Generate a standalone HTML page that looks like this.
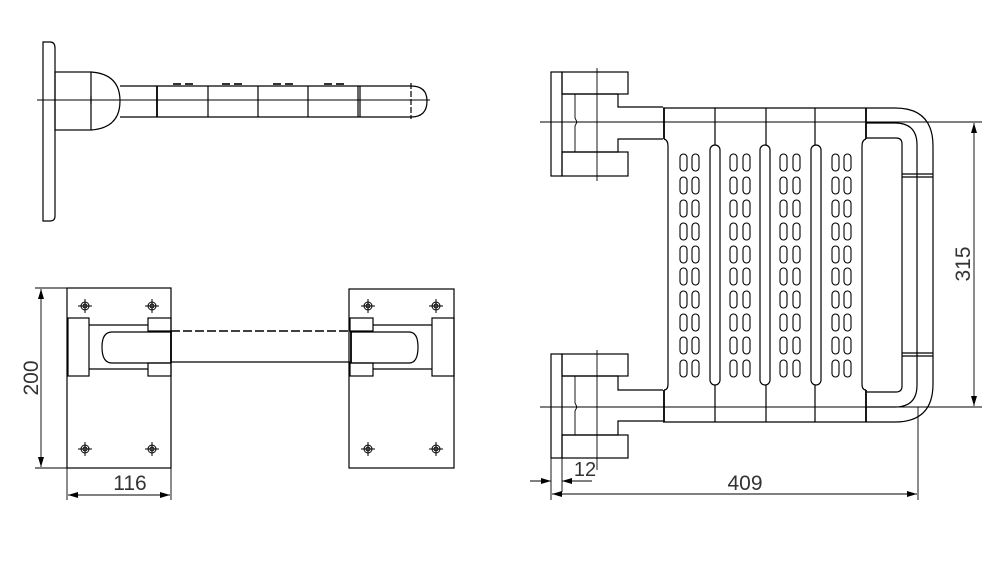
<!DOCTYPE html>
<html><head><meta charset="utf-8"><style>
html,body{margin:0;padding:0;background:#fff;}
svg{display:block;}
text{font-family:"Liberation Sans",sans-serif;fill:#333;}
</style></head><body>
<svg width="1000" height="561" viewBox="0 0 1000 561" xmlns="http://www.w3.org/2000/svg">
<defs>
<marker id="ar" viewBox="0 0 10 6" refX="10" refY="3" markerWidth="10" markerHeight="6" orient="auto-start-reverse" markerUnits="userSpaceOnUse"><path d="M0,0 L10,3 L0,6 z" fill="#000"/></marker>
</defs>
<g fill="none" stroke="#000" stroke-width="1.2">
<path d="M43,42 H50 Q55,42 55,48 V216 Q55,221 50,221 H43 Z"/>
<rect x="55" y="72" width="36" height="58"/>
<path d="M91,72 Q120,74 120,101 Q120,128 91,130"/>
<path d="M120,86 H411 Q427,86 427,101 Q427,117 411,117 H120"/>
<line x1="157" y1="86" x2="157" y2="117" stroke-width="1.8"/>
<line x1="208" y1="86" x2="208" y2="117"/>
<line x1="258" y1="86" x2="258" y2="117"/>
<line x1="308" y1="86" x2="308" y2="117"/>
<line x1="358" y1="86" x2="358" y2="117"/>
<line x1="360" y1="86" x2="360" y2="117"/>
<line x1="411" y1="83" x2="411" y2="119" stroke-dasharray="6,2"/>
<line x1="37" y1="100" x2="430" y2="100" stroke-width="0.9"/>
<line x1="91" y1="96" x2="91" y2="104"/>
<g stroke-width="1.6"><line x1="173" y1="84" x2="181" y2="84"/><line x1="185" y1="84" x2="193" y2="84"/><line x1="222" y1="84" x2="230" y2="84"/><line x1="234" y1="84" x2="242" y2="84"/><line x1="273" y1="84" x2="281" y2="84"/><line x1="285" y1="84" x2="293" y2="84"/><line x1="324" y1="84" x2="332" y2="84"/><line x1="336" y1="84" x2="344" y2="84"/></g>

<rect x="67" y="288" width="104" height="180"/>
<rect x="349" y="289" width="105" height="179"/>
<rect x="68" y="318" width="21" height="58"/>
<rect x="148" y="318" width="23" height="13"/>
<rect x="148" y="363" width="23" height="13"/>
<line x1="89" y1="325" x2="148" y2="325"/><line x1="89" y1="369" x2="148" y2="369"/>
<path d="M171,332 H112 Q102,332 102,347 Q102,363 112,363 H171"/>
<line x1="171" y1="331" x2="350" y2="331" stroke-dasharray="9,3" stroke-width="1.6"/>
<line x1="171" y1="362" x2="350" y2="362"/>
<line x1="171" y1="331" x2="171" y2="363" stroke-width="1.8"/>
<line x1="351" y1="331" x2="351" y2="363" stroke-width="1.8"/>
<path d="M350,332 H409 Q418,332 418,347 Q418,363 409,363 H350"/>
<rect x="350" y="318" width="23" height="13"/>
<rect x="350" y="363" width="23" height="13"/>
<rect x="432" y="318" width="22" height="58"/>
<line x1="373" y1="325" x2="432" y2="325"/><line x1="373" y1="369" x2="432" y2="369"/>
<g stroke-width="1">
<g transform="translate(85,306)"><circle r="4"/><circle r="2"/><line x1="-7" y1="0" x2="7" y2="0"/><line x1="0" y1="-7" x2="0" y2="7"/></g>
<g transform="translate(152,306)"><circle r="4"/><circle r="2"/><line x1="-7" y1="0" x2="7" y2="0"/><line x1="0" y1="-7" x2="0" y2="7"/></g>
<g transform="translate(85,449)"><circle r="4"/><circle r="2"/><line x1="-7" y1="0" x2="7" y2="0"/><line x1="0" y1="-7" x2="0" y2="7"/></g>
<g transform="translate(152,449)"><circle r="4"/><circle r="2"/><line x1="-7" y1="0" x2="7" y2="0"/><line x1="0" y1="-7" x2="0" y2="7"/></g>
<g transform="translate(368,306)"><circle r="4"/><circle r="2"/><line x1="-7" y1="0" x2="7" y2="0"/><line x1="0" y1="-7" x2="0" y2="7"/></g>
<g transform="translate(436,306)"><circle r="4"/><circle r="2"/><line x1="-7" y1="0" x2="7" y2="0"/><line x1="0" y1="-7" x2="0" y2="7"/></g>
<g transform="translate(368,449)"><circle r="4"/><circle r="2"/><line x1="-7" y1="0" x2="7" y2="0"/><line x1="0" y1="-7" x2="0" y2="7"/></g>
<g transform="translate(436,449)"><circle r="4"/><circle r="2"/><line x1="-7" y1="0" x2="7" y2="0"/><line x1="0" y1="-7" x2="0" y2="7"/></g>
</g>
<g stroke-width="0.9">
<line x1="35" y1="288" x2="67" y2="288"/><line x1="35" y1="468" x2="171" y2="468"/>
<line x1="41" y1="289" x2="41" y2="467" marker-start="url(#ar)" marker-end="url(#ar)"/>
<line x1="67" y1="468" x2="67" y2="500"/><line x1="171" y1="468" x2="171" y2="500"/>
<line x1="68" y1="495" x2="170" y2="495" marker-start="url(#ar)" marker-end="url(#ar)"/>
</g>

<rect x="551" y="72" width="11" height="104"/>
<rect x="562" y="72" width="66" height="22"/>
<rect x="562" y="152" width="66" height="24"/>
<path d="M562,94 H618 V107 H663 M663,139 H618 V152 H562"/>
<line x1="597" y1="68" x2="597" y2="181" stroke-width="0.9"/>
<path d="M575,94 V118 L577,122 L575,126 V152" stroke-width="0.9"/>
<rect x="551" y="354" width="11" height="104"/>
<rect x="562" y="354" width="66" height="22"/>
<rect x="562" y="435" width="66" height="23"/>
<path d="M562,376 H618 V390 H663 M663,421 H618 V435 H562"/>
<line x1="597" y1="350" x2="597" y2="470" stroke-width="0.9"/>
<path d="M575,376 V403 L577,407 L575,411 V435" stroke-width="0.9"/>
<path d="M663,108 H895 Q933,108 933,146 V384 Q933,422 895,422 H663"/>
<path d="M866,123 H895 Q917,123 917,145 V385 Q917,407 895,407 H866"/>
<path d="M867,138 H896 Q902,138 902,144 V386 Q902,392 896,392 H867"/>
<line x1="902" y1="174" x2="933" y2="174"/><line x1="902" y1="177" x2="933" y2="177"/>
<line x1="902" y1="353" x2="933" y2="353"/><line x1="902" y1="356" x2="933" y2="356"/>
<g stroke-width="1.8"><line x1="664" y1="108" x2="664" y2="139"/><line x1="664" y1="390" x2="664" y2="422"/><line x1="866" y1="108" x2="866" y2="139"/><line x1="866" y1="390" x2="866" y2="422"/></g>
<line x1="715" y1="108" x2="715" y2="145"/><line x1="715" y1="385" x2="715" y2="422"/>
<line x1="766" y1="108" x2="766" y2="145"/><line x1="766" y1="385" x2="766" y2="422"/>
<line x1="815" y1="108" x2="815" y2="145"/><line x1="815" y1="385" x2="815" y2="422"/>
<path d="M664,139 Q668,140 668,146 V384 Q668,390 664,390"/>
<path d="M866,139 Q862,140 862,146 V384 Q862,390 866,390"/>
<rect x="710" y="145" width="10" height="240" rx="5"/>
<rect x="760" y="145" width="10" height="240" rx="5"/>
<rect x="811" y="145" width="10" height="240" rx="5"/>
<line x1="540" y1="122" x2="982" y2="122" stroke-width="0.9"/>
<line x1="540" y1="407" x2="982" y2="407" stroke-width="0.9"/>
<g stroke-width="0.9">
<line x1="974" y1="123" x2="974" y2="406" marker-start="url(#ar)" marker-end="url(#ar)"/>
<line x1="551" y1="458" x2="551" y2="500"/><line x1="562" y1="458" x2="562" y2="492"/>
<line x1="918" y1="407" x2="918" y2="500"/>
<line x1="552" y1="494" x2="917" y2="494" marker-start="url(#ar)" marker-end="url(#ar)"/>
<line x1="530" y1="481" x2="551" y2="481" marker-end="url(#ar)"/>
<line x1="592" y1="481" x2="562" y2="481" marker-end="url(#ar)"/>
</g>
</g>
<g fill="none" stroke="#000" stroke-width="1.1">
<rect x="680" y="154" width="7" height="17" rx="3.5"/><rect x="692" y="154" width="7" height="17" rx="3.5"/><rect x="730" y="154" width="7" height="17" rx="3.5"/><rect x="743" y="154" width="7" height="17" rx="3.5"/><rect x="780" y="154" width="7" height="17" rx="3.5"/><rect x="793" y="154" width="7" height="17" rx="3.5"/><rect x="832" y="154" width="7" height="17" rx="3.5"/><rect x="844" y="154" width="7" height="17" rx="3.5"/>
<rect x="680" y="177" width="7" height="17" rx="3.5"/><rect x="692" y="177" width="7" height="17" rx="3.5"/><rect x="730" y="177" width="7" height="17" rx="3.5"/><rect x="743" y="177" width="7" height="17" rx="3.5"/><rect x="780" y="177" width="7" height="17" rx="3.5"/><rect x="793" y="177" width="7" height="17" rx="3.5"/><rect x="832" y="177" width="7" height="17" rx="3.5"/><rect x="844" y="177" width="7" height="17" rx="3.5"/>
<rect x="680" y="200" width="7" height="17" rx="3.5"/><rect x="692" y="200" width="7" height="17" rx="3.5"/><rect x="730" y="200" width="7" height="17" rx="3.5"/><rect x="743" y="200" width="7" height="17" rx="3.5"/><rect x="780" y="200" width="7" height="17" rx="3.5"/><rect x="793" y="200" width="7" height="17" rx="3.5"/><rect x="832" y="200" width="7" height="17" rx="3.5"/><rect x="844" y="200" width="7" height="17" rx="3.5"/>
<rect x="680" y="223" width="7" height="17" rx="3.5"/><rect x="692" y="223" width="7" height="17" rx="3.5"/><rect x="730" y="223" width="7" height="17" rx="3.5"/><rect x="743" y="223" width="7" height="17" rx="3.5"/><rect x="780" y="223" width="7" height="17" rx="3.5"/><rect x="793" y="223" width="7" height="17" rx="3.5"/><rect x="832" y="223" width="7" height="17" rx="3.5"/><rect x="844" y="223" width="7" height="17" rx="3.5"/>
<rect x="680" y="246" width="7" height="17" rx="3.5"/><rect x="692" y="246" width="7" height="17" rx="3.5"/><rect x="730" y="246" width="7" height="17" rx="3.5"/><rect x="743" y="246" width="7" height="17" rx="3.5"/><rect x="780" y="246" width="7" height="17" rx="3.5"/><rect x="793" y="246" width="7" height="17" rx="3.5"/><rect x="832" y="246" width="7" height="17" rx="3.5"/><rect x="844" y="246" width="7" height="17" rx="3.5"/>
<rect x="680" y="268" width="7" height="17" rx="3.5"/><rect x="692" y="268" width="7" height="17" rx="3.5"/><rect x="730" y="268" width="7" height="17" rx="3.5"/><rect x="743" y="268" width="7" height="17" rx="3.5"/><rect x="780" y="268" width="7" height="17" rx="3.5"/><rect x="793" y="268" width="7" height="17" rx="3.5"/><rect x="832" y="268" width="7" height="17" rx="3.5"/><rect x="844" y="268" width="7" height="17" rx="3.5"/>
<rect x="680" y="291" width="7" height="17" rx="3.5"/><rect x="692" y="291" width="7" height="17" rx="3.5"/><rect x="730" y="291" width="7" height="17" rx="3.5"/><rect x="743" y="291" width="7" height="17" rx="3.5"/><rect x="780" y="291" width="7" height="17" rx="3.5"/><rect x="793" y="291" width="7" height="17" rx="3.5"/><rect x="832" y="291" width="7" height="17" rx="3.5"/><rect x="844" y="291" width="7" height="17" rx="3.5"/>
<rect x="680" y="314" width="7" height="17" rx="3.5"/><rect x="692" y="314" width="7" height="17" rx="3.5"/><rect x="730" y="314" width="7" height="17" rx="3.5"/><rect x="743" y="314" width="7" height="17" rx="3.5"/><rect x="780" y="314" width="7" height="17" rx="3.5"/><rect x="793" y="314" width="7" height="17" rx="3.5"/><rect x="832" y="314" width="7" height="17" rx="3.5"/><rect x="844" y="314" width="7" height="17" rx="3.5"/>
<rect x="680" y="337" width="7" height="17" rx="3.5"/><rect x="692" y="337" width="7" height="17" rx="3.5"/><rect x="730" y="337" width="7" height="17" rx="3.5"/><rect x="743" y="337" width="7" height="17" rx="3.5"/><rect x="780" y="337" width="7" height="17" rx="3.5"/><rect x="793" y="337" width="7" height="17" rx="3.5"/><rect x="832" y="337" width="7" height="17" rx="3.5"/><rect x="844" y="337" width="7" height="17" rx="3.5"/>
<rect x="680" y="360" width="7" height="17" rx="3.5"/><rect x="692" y="360" width="7" height="17" rx="3.5"/><rect x="730" y="360" width="7" height="17" rx="3.5"/><rect x="743" y="360" width="7" height="17" rx="3.5"/><rect x="780" y="360" width="7" height="17" rx="3.5"/><rect x="793" y="360" width="7" height="17" rx="3.5"/><rect x="832" y="360" width="7" height="17" rx="3.5"/><rect x="844" y="360" width="7" height="17" rx="3.5"/>
</g>
<text x="130" y="490" font-size="21" text-anchor="middle">116</text>
<text transform="translate(38,378) rotate(-90)" font-size="21" text-anchor="middle">200</text>
<text transform="translate(970,264) rotate(-90)" font-size="21" text-anchor="middle">315</text>
<text x="745" y="490" font-size="21" text-anchor="middle">409</text>
<text x="585" y="476" font-size="20" text-anchor="middle">12</text>
</svg>
</body></html>
